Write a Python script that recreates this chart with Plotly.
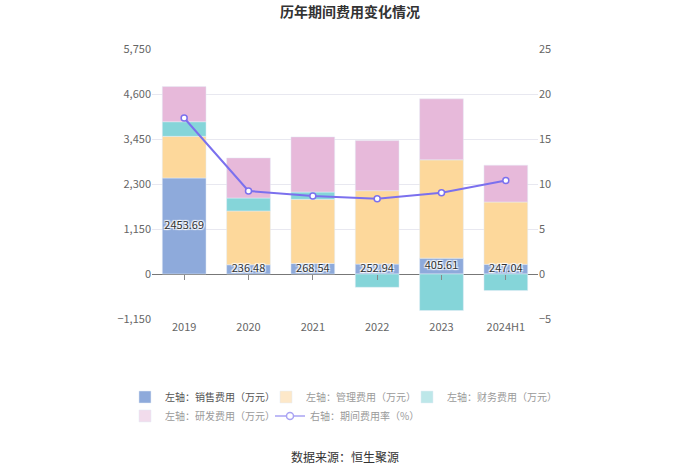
import plotly.graph_objects as go

categories = ["2019", "2020", "2021", "2022", "2023", "2024H1"]
sales = [2453.69, 236.48, 268.54, 252.94, 405.61, 247.04]
admin = [1064, 1374, 1640, 1876, 2512, 1593]
finance = [374, 331, 186, -340, -933, -424]
rnd = [899, 1026, 1409, 1280, 1559, 941]
rate = [17.33, 9.22, 8.66, 8.37, 9.03, 10.4]
left_ticks = [-1150, 0, 1150, 2300, 3450, 4600, 5750]
right_ticks = [-5, 0, 5, 10, 15, 20, 25]
series_names = ["左轴：销售费用（万元）", "左轴：管理费用（万元）", "左轴：财务费用（万元）",
                "左轴：研发费用（万元）", "右轴：期间费用率（%）"]

FONT = "Noto Sans CJK SC"
BAR_COLORS = ["#8eaadb", "#fdd89b", "#85d5d9", "#e7b9da"]
LEG_COLORS = ["#8eaadb", "#fde8c9", "#bde7e9", "#f2dcec"]
LINE_COLOR = "#7b70ee"

fig = go.Figure()
for vals, name, col in zip([sales, admin, finance, rnd], series_names[:4], BAR_COLORS):
    fig.add_bar(x=categories, y=vals, name=name, marker_color=col, showlegend=False)
fig.add_scatter(x=categories, y=rate, name=series_names[4], yaxis="y2", mode="lines+markers",
                line=dict(color=LINE_COLOR, width=2),
                marker=dict(symbol="circle", size=6, color="white", line=dict(color=LINE_COLOR, width=1.5)),
                showlegend=False)

# data labels on sales bars (also carries tick marks on the zero line axis)
fig.add_scatter(x=categories, y=[v / 2 for v in sales], xaxis="x2",
                text=[f"{v:.2f}" for v in sales], mode="text", showlegend=False,
                textfont=dict(size=11, color="#333", family=FONT,
                              shadow="1px 1px 1px #fff, -1px -1px 1px #fff, 1px -1px 1px #fff, -1px 1px 1px #fff"),
                hoverinfo="skip")

# legend entries (faded like the reference's hover state)
leg_ids = ["legend", "legend2", "legend3", "legend4", "legend5"]
for i in range(4):
    fig.add_bar(x=[None], y=[None], name=series_names[i], marker_color=LEG_COLORS[i], legend=leg_ids[i])
fig.add_scatter(x=[None], y=[None], name=series_names[4], mode="lines+markers", legend=leg_ids[4],
                line=dict(color="#a9a3f3", width=1.5),
                marker=dict(symbol="circle", size=7, color="white", line=dict(color="#a9a3f3", width=1.5)))

row1_y = -0.289
row2_y = -0.359
col_x = [-0.070, 0.2953, 0.6606]
leg_common = dict(orientation="h", xanchor="left", yanchor="middle", bgcolor="rgba(0,0,0,0)")
faded_font = dict(size=10, color="#9a9a9a")

fig.update_layout(
    width=700, height=474,
    barmode="relative", bargap=0.32,
    plot_bgcolor="white", paper_bgcolor="white",
    margin=dict(l=152, r=162, t=49, b=155),
    font=dict(family=FONT, color="#666", size=11),
    title=dict(text="<b>历年期间费用变化情况</b>", x=0.5, xanchor="center", y=0.975, yanchor="middle",
               font=dict(size=14, color="#333", family=FONT)),
    xaxis=dict(showgrid=False, showline=False, ticks="", tickfont=dict(size=11, color="#666")),
    xaxis2=dict(overlaying="x", matches="x", anchor="free", position=1150 / 6900, ticks="outside",
                ticklen=5, tickcolor="#888", showticklabels=False, showgrid=False, zeroline=False,
                showline=False),
    yaxis=dict(range=[-1150, 5750], tickvals=left_ticks, tickformat=",", gridcolor="#e8e8f0",
               zeroline=True, zerolinecolor="#777", zerolinewidth=1, ticks="", showline=False,
               tickfont=dict(size=11, color="#666")),
    yaxis2=dict(range=[-5, 25], tickvals=right_ticks, overlaying="y", side="right", showgrid=False,
                zeroline=False, ticks="", showline=False, tickfont=dict(size=11, color="#666")),
    legend=dict(x=col_x[0], y=row1_y, font=dict(size=10, color="#555"), **leg_common),
    legend2=dict(x=col_x[1], y=row1_y, font=faded_font, **leg_common),
    legend3=dict(x=col_x[2], y=row1_y, font=faded_font, **leg_common),
    legend4=dict(x=col_x[0], y=row2_y, font=faded_font, **leg_common),
    legend5=dict(x=0.3057, y=row2_y, font=faded_font, **leg_common),
    annotations=[dict(text="数据来源：恒生聚源", xref="paper", yref="paper", x=0.5, y=-0.511,
                      xanchor="center", yanchor="middle", showarrow=False,
                      font=dict(size=12, color="#333", family=FONT))],
)

fig.write_html("out.html", config={"displayModeBar": False},
               post_script="document.body.style.margin='0';")
